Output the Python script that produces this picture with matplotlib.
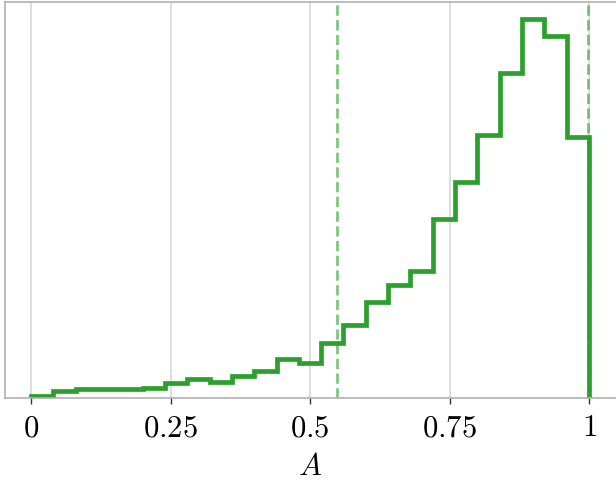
import numpy as np
import matplotlib.pyplot as plt

plt.rcParams['mathtext.fontset'] = 'cm'

# histogram bin edges and heights (arbitrary units)
bin_edges = np.linspace(0, 1, 26)
counts = [2.3, 7.3, 8.7, 8.7, 8.7, 10.0, 15.3, 19.3, 15.7, 21.7, 26.7, 39.3, 34.7,
          54.7, 72.7, 96.3, 113.0, 127.3, 179.0, 215.7, 263.0, 325.3, 378.7, 362.3, 261.3]
marker_lines = [0.549, 0.999]
xtick_vals = [0, 0.25, 0.5, 0.75, 1]
xtick_labels = ['$0$', '$0.25$', '$0.5$', '$0.75$', '$1$']

green = '#2ca02c'

fig = plt.figure(figsize=(6.16, 4.82), dpi=100)
ax = fig.add_axes([5 / 616, 84 / 482, 1 - 5 / 616, 396 / 482])

ax.hist(bin_edges[:-1], bins=bin_edges, weights=counts, histtype='step',
        color=green, linewidth=3.4)
for xv in marker_lines:
    ax.axvline(xv, color=green, alpha=0.6, linestyle='--', linewidth=2)

ax.set_xlim(-26 / 558, 585 / 558)
ax.set_ylim(0, max(counts) * 1.046)
ax.set_yticks([])
ax.set_xticks(xtick_vals)
ax.set_xticklabels(xtick_labels, fontsize=22)
ax.tick_params(axis='x', length=4, width=1, color='#333333', pad=7)
ax.grid(axis='x', color='#d8d8d8', linewidth=1.2)
ax.set_axisbelow(True)
ax.set_xlabel('$A$', fontsize=22, labelpad=7)

for side in ['left', 'top', 'bottom']:
    ax.spines[side].set_color('#b0b0b0')
    ax.spines[side].set_linewidth(1.2)
ax.spines['right'].set_visible(False)

fig.savefig('out.png', dpi=100)
